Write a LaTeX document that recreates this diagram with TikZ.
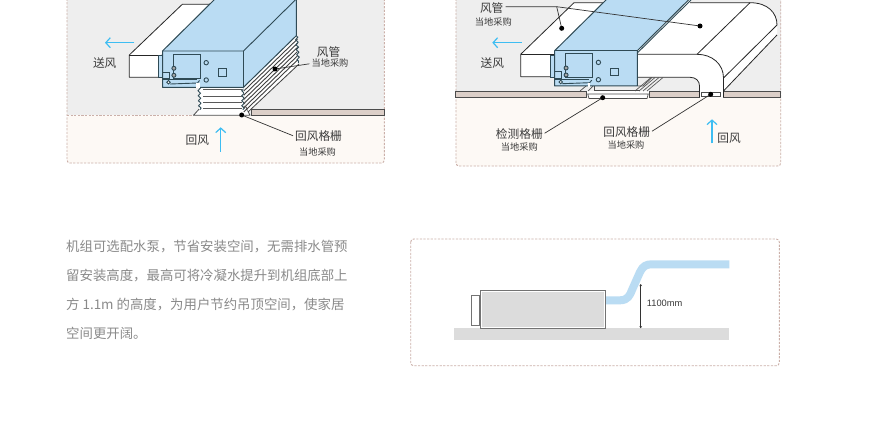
\documentclass[tikz,border=0pt]{standalone}
\usepackage{fontspec}
\setmainfont{Noto Sans CJK SC}
\newfontfamily\latinfont{Liberation Sans}
\usetikzlibrary{arrows.meta,decorations.pathmorphing}
\definecolor{grayroom}{HTML}{EEEEEE}
\definecolor{creamroom}{HTML}{FDF9F5}
\definecolor{dashc}{HTML}{CBB0A9}
\definecolor{plate}{HTML}{DCCFC8}
\definecolor{unitblue}{HTML}{BADCF3}
\definecolor{edgec}{HTML}{2F4A55}
\definecolor{airc}{HTML}{3DBDF2}
\definecolor{labelc}{HTML}{3A3A3A}
\definecolor{bodyc}{HTML}{8A8A8A}
\definecolor{solidc}{HTML}{DCDCDC}
\tikzset{
  panel/.style={draw=dashc,dash pattern=on 2.2pt off 1.4pt,line width=.9pt,rounded corners=3pt},
  air/.style={draw=airc,line width=1.2pt,-{Straight Barb[length=4.5pt,width=10pt]}},
  duct/.style={draw=black!85,fill=white,line width=.8pt,line join=round},
  unit/.style={draw=edgec,fill=unitblue,line width=1pt,line join=round},
  fine/.style={draw=edgec,line width=.9pt},
  plateb/.style={draw=black!70,fill=plate,line width=.7pt},
  leader/.style={draw=black!80,line width=.7pt},
  pin/.style={circle,fill=black,inner sep=0pt,minimum size=5pt},
  big/.style={text=labelc,font=\fontsize{11.7}{13}\selectfont,inner sep=0pt},
  small/.style={text=labelc,font=\fontsize{9.2}{10}\selectfont,inner sep=0pt},
  bodytext/.style={text=bodyc,font=\fontsize{13.4}{14}\selectfont,inner sep=0pt,anchor=west},
  bell/.style={decorate,decoration={zigzag,amplitude=1.2pt,segment length=5pt}},
}
\newcommand{\panelunit}[2]{%
  \begin{scope}[shift={(#1,#2)}]
    \draw[fine,fill=unitblue] (-4,4.7) rectangle (0,26.3);
    \draw[fine] (11,3) rectangle (37.7,27);
    \draw[fine] (0,21) rectangle (6.7,27.3);
    \draw[fine,fill=black!35] (11.4,17.3) circle (2);
    \draw[fine,fill=black!35] (11.4,24.3) circle (2);
    \draw[fine] (43.7,11.7) circle (2.2);
    \draw[fine] (43.7,29) circle (2.2);
    \draw[fine] (56,17.3) rectangle (63.7,25);
    \draw[fine,line width=1.2pt] (0,28.6) -- (34,28.6);
    \draw[fine,fill=white] (6,31.3) circle (1.7);
    \draw[fine] (7.7,33) -- (35,32) -- (37,29.5);
  \end{scope}}
\begin{document}
\begin{tikzpicture}[x=1pt,y=-1pt]
\useasboundingbox (0,0) rectangle (872,425);
\begin{scope}
\clip (0,0) rectangle (872,425);
\fill[white] (0,0) rectangle (872,425);

% ---------- left panel
\fill[grayroom] (67,-5) rectangle (384.3,115.3);
\fill[creamroom,rounded corners=3pt] (67,115.3) -- (67,163) -- (384.3,163) -- (384.3,115.3) -- cycle;
\draw[panel] (67,-5) -- (67,163) -- (384.3,163) -- (384.3,-5);
\draw[draw=dashc,dash pattern=on 2.2pt off 1.4pt,line width=.7pt] (67,115.5) -- (193,115.5);
\draw[plateb] (251.7,109.3) rectangle (384.3,115.3);
% supply duct
\draw[duct] (129.3,77.3) -- (129.3,55) -- (182.3,4.3) -- (215,4.3) -- (162,55) -- (162,77.3) -- cycle;
\draw[duct] (129.3,55) -- (162,55);
% bellows base
\draw[duct,draw=black!70] (193.5,115.3) -- (201,107) -- (246,107) -- (250,115.3) -- cycle;
% front bellows
\fill[white] (198.5,87) rectangle (243,110);
\draw[fine,bell] (199,87) -- (200,110);
\draw[fine,bell] (243,87) -- (243,110);
\foreach \yy in {90,96.5,103,108.5} \draw[draw=black!65,line width=1pt] (203,\yy) -- (242,\yy);
% side bellows
\fill[white] (243,87) -- (296,36) -- (299,63) -- (248,112) -- cycle;
\foreach \dd in {4,8.2,12.4,16.6,20.8,25}
  \draw[draw=black!75,line width=.9pt] (243.8,87+\dd) -- (297.5,35+\dd);
\draw[fine,bell] (296.5,36) -- (298.5,63);
\draw[draw=black!75,line width=.8pt] (248,112) -- (299,64);
% main unit
\draw[unit] (162.5,51) -- (215,-1) -- (296.3,-1) -- (296.3,35.7) -- (243.5,87.3) -- (162.5,87.3) -- cycle;
\draw[fine] (162.5,51) -- (243.5,51) -- (296.3,-1);
\draw[fine] (243.5,51) -- (243.5,87.3);
\panelunit{162.5}{51}
\fill[white] (196,83) rectangle (200,87.8);
% leaders and labels
\coordinate (lpipe) at (275,69);
\coordinate (lgrille) at (241.7,115);
\node[big] (lduct) at (328.5,51.7) {风管};
\node[small] (lductb) at (330,63.5) {当地采购};
\node[big] (lgrt) at (318.5,136.5) {回风格栅};
\node[small] (lgrb) at (317.5,152) {当地采购};
\node[big] (lsup) at (104.7,63.3) {送风};
\node[big] (lret) at (197.3,140) {回风};
\draw[leader,shorten >=2pt] (lpipe) -- (lductb.west);
\draw[leader,shorten >=2pt] (lgrille) -- (lgrt.west);
\node[pin] at (lpipe) {};
\node[pin] at (lgrille) {};
\coordinate (la1) at (134.3,42.7); \coordinate (la2) at (105,42.7);
\draw[air] (la1) -- (la2);
\coordinate (la3) at (220.7,151.7); \coordinate (la4) at (220.7,127.3);
\draw[air] (la3) -- (la4);

% ---------- right panel
\fill[grayroom] (456,-5) rectangle (780.7,91.5);
\fill[creamroom,rounded corners=3pt] (456,96) -- (456,166) -- (780.7,166) -- (780.7,96) -- cycle;
\draw[panel] (456,-5) -- (456,166) -- (780.7,166) -- (780.7,-5);
\draw[plateb] (455.7,91.7) rectangle (586.7,97.7);
\draw[plateb] (649,91.7) rectangle (699.3,97.7);
\draw[plateb] (723.3,91.7) rectangle (780.7,97.7);
% supply duct
\draw[duct] (520.7,76.7) -- (520.7,54.3) -- (574,2.7) -- (625,2.7) -- (560,54.3) -- (560,76.7) -- cycle;
\draw[duct] (520.7,54.3) -- (555,54.3);
% return duct
\fill[white] (637,54.3) -- (698,54.3) -- (750,2.7) -- (690,2.7) -- (640,2.7) -- cycle;
\fill[white] (698,2.7) -- (750,2.7) .. controls (768,2.7) and (777,13) .. (777,25) -- (777,35) -- (723.5,91) -- (723.5,97.7) -- (699.5,97.7) -- (699.5,86) .. controls (699.5,80) and (696,77.3) .. (690,77.3) -- (637,77.3) -- (637,54.3) -- cycle;
\draw[duct,fill=none] (690,2.7) -- (750,2.7) .. controls (768,2.7) and (777,13) .. (777,25);
\draw[duct,fill=none] (697,54.3) -- (750,2.7);
\draw[duct,fill=none] (637,54.3) -- (697,54.3) .. controls (712,54.3) and (723.5,64) .. (723.5,78) -- (723.5,97.7);
\draw[duct,fill=none] (723.5,78) -- (777,25);
\draw[duct,fill=none] (723.5,91) -- (777,35);
\draw[duct,fill=none] (637,77.3) -- (690,77.3) .. controls (696,77.3) and (699.5,81) .. (699.5,86) -- (699.5,97.7);
% under-unit grid
\foreach \dx in {0,4,8,12}
  \draw[draw=black!65,line width=.7pt] (643+\dx-8,91) -- (657+\dx-6,77.5);
\draw[draw=black!70,line width=.7pt] (638,86) -- (643,86) -- (652,77.5);
\draw[draw=black!70,line width=.7pt] (580,91) -- (589,83.5);
\draw[draw=black!70,line width=.7pt] (588,91) -- (594,85);
\draw[draw=black!70,line width=.7pt] (594,86) -- (594,90);
% detection grille
\draw[draw=black!70,fill=white,line width=.7pt] (587.7,94) -- (648.3,94) -- (647,98.5) -- (589,98.5) -- cycle;
\draw[draw=black!70,line width=.7pt] (594,90) -- (640,90);
% return grille
\draw[draw=black!70,fill=white,line width=.7pt] (701.7,92.3) rectangle (720,96.7);
% main unit
\draw[draw=edgec,line width=.9pt] (637.3,53) -- (691,0);
\draw[unit] (554.7,50.7) -- (607,-1) -- (689.5,-1) -- (637.3,50.7) -- (637.3,86) -- (554.7,86) -- cycle;
\draw[fine] (554.7,50.7) -- (637.3,50.7);
\panelunit{554.7}{50.7}
\fill[white] (588,83) rectangle (590,86.6);
% labels and leaders
\coordinate (rpa) at (561.7,28.3);
\coordinate (rpb) at (700,26);
\coordinate (rfork) at (556.7,6.7);
\coordinate (rgrille) at (602.7,97.7);
\coordinate (rret) at (710.7,94.3);
\node[big] (rduct) at (491.7,8.3) {风管};
\node[small] (rductb) at (493.3,21.7) {当地采购};
\node[big] (rsup) at (492.3,63.3) {送风};
\node[big] (rcht) at (519.3,134.3) {检测格栅};
\node[small] (rchb) at (519.3,147) {当地采购};
\node[big] (rgrt) at (626.7,132.3) {回风格栅};
\node[small] (rgrb) at (626,144.7) {当地采购};
\node[big] (rrt) at (729,138.3) {回风};
\draw[leader] (rduct.east) ++(2,-1.6) -- (rfork) -- (rpb);
\draw[leader] (rfork) -- (rpa);
\draw[leader,shorten >=2pt] (rgrille) -- (rcht.east);
\draw[leader,shorten >=2pt] (rret) -- (rgrt.east);
\node[pin] at (rpa) {};
\node[pin] at (rpb) {};
\node[pin] at (rgrille) {};
\node[pin] at (rret) {};
\coordinate (ra1) at (521.7,42.7); \coordinate (ra2) at (492.3,42.7);
\draw[air] (ra1) -- (ra2);
\coordinate (ra3) at (712,143.3); \coordinate (ra4) at (712,119.3);
\draw[air] (ra3) -- (ra4);

% ---------- body text
\node[bodytext] (t1) at (66,246.7) {机组可选配水泵，节省安装空间，无需排水管预};
\node[bodytext] (t2) at (66,275.7) {留安装高度，最高可将冷凝水提升到机组底部上};
\node[bodytext] (t3) at (66,304.7) {方 1.1m 的高度，为用户节约吊顶空间，使家居};
\node[bodytext] (t4) at (66,333.7) {空间更开阔。};

% ---------- lower panel
\draw[panel] (410.7,239) rectangle (779.3,365.7);
\fill[solidc] (454,328.3) rectangle (729.3,340);
\draw[draw=unitblue,line width=8pt,line join=round] (605,300.3) -- (620,300.3) .. controls (628,300.3) and (630,295) .. (632,290) -- (640,272) .. controls (643,266) and (646,264.3) .. (652,264.3) -- (729.3,264.3);
\draw[draw=black!55,fill=white,line width=.7pt] (471.3,295) rectangle (479.7,325);
\node[draw=black!55,fill=solidc,line width=.7pt,minimum width=125.5pt,minimum height=38pt,inner sep=0pt] (unitbox) at (542.7,309.5) {};
\draw[white,line width=.6pt] (481,327.4) -- (604.4,327.4) -- (604.4,291.6) -- (481,291.6) -- cycle;
\coordinate (dimtop) at (640.7,284);
\coordinate (dimbot) at (640.7,328.3);
\draw[draw=black!80,line width=.6pt,{Stealth[length=2.2pt,width=2.6pt]}-{Stealth[length=2.2pt,width=2.6pt]}] (dimtop) -- (dimbot);
\node[inner sep=0pt,anchor=west,text=labelc,font=\latinfont\fontsize{9.3}{10}\selectfont] (dimlab) at (646.7,303.5) {1100mm};
\end{scope}
\end{tikzpicture}
\end{document}
